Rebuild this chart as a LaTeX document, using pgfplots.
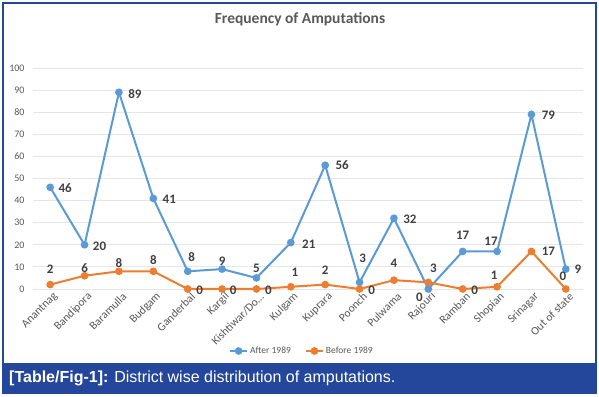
\documentclass[border=0pt]{standalone}
\usepackage{pgfplots}
\pgfplotsset{compat=1.18}
\usepackage{pgfplotstable}
\usepackage{fontspec}
\setmainfont{Carlito}
\newfontfamily\capfont{Liberation Sans}
\definecolor{blueS}{HTML}{5B9BD5}
\definecolor{orangeS}{HTML}{ED7D31}
\definecolor{txt}{HTML}{595959}
\definecolor{lbl}{HTML}{404040}
\definecolor{gridc}{HTML}{E6E6E6}
\definecolor{capbar}{HTML}{24479B}

\pgfplotstableread{
x y dx dy
0 46 15 -1
1 20 15 -1
2 89 16 -2
3 41 16 -1
4 8 4 14
5 9 0 8
6 5 0 10
7 21 18 -2
8 56 17 0
9 3 3 24
10 32 16 -1
11 0 -9 -8
12 17 0 16
13 17 -6 10
14 79 17 -1
15 9 12 0
}\after

\pgfplotstableread{
x y dx dy
0 2 0 15
1 6 0 8
2 8 0 8
3 8 0 11
4 0 12 -1
5 0 11 -1
6 0 12 -1
7 1 4 15
8 2 0 14
9 0 12 -1
10 4 0 17
11 3 5 14
12 0 12 -1
13 1 -3 12
14 17 17 0
15 0 -3 13
}\before

\begin{document}
\begin{tikzpicture}
\fill[white] (0pt,0pt) rectangle (599pt,396pt);
\fill[capbar] (3pt,3pt) rectangle (596pt,33pt);
\draw[capbar, line width=1.3pt] (3pt,3pt) rectangle (596pt,393pt);
\node[anchor=west, text=white, inner sep=0pt, font=\capfont\fontsize{16}{18}\selectfont] at (9pt,18pt) {\textbf{[Table/Fig-1]:} District wise distribution of amputations.};
\node[font=\bfseries\fontsize{15.5}{18}\selectfont, text=txt] at (300pt,377pt) {Frequency of Amputations};
\begin{axis}[
  at={(33pt,107pt)}, anchor=south west,
  scale only axis, width=550pt, height=221pt,
  xmin=-0.5, xmax=15.5, ymin=0, ymax=100,
  clip=false,
  axis line style={draw=none},
  tick style={draw=none},
  ymajorgrids, grid style={gridc, line width=0.8pt},
  ytick={0,10,...,100},
  xtick={0,...,15},
  xticklabels={Anantnag, Bandipora, Baramulla, Budgam, Ganderbal, Kargil, Kishtiwar/Do…, Kulgam, Kuprara, Poonch, Pulwama, Rajouri, Ramban, Shopian, Srinagar, Out of state},
  xticklabel style={rotate=45, anchor=east, xshift=1pt, yshift=-8pt, font=\fontsize{11.5}{13}\selectfont, text=txt, inner sep=1pt},
  yticklabel style={font=\fontsize{10}{11}\selectfont, text=txt, xshift=-5pt},
  /pgf/number format/assume math mode=true,
  legend columns=2,
  legend style={at={(0.489,-0.2805)}, anchor=center, draw=none, fill=none,
    font=\fontsize{9.5}{11}\selectfont, text=txt,
    /tikz/every even column/.append style={column sep=12pt}},
]
\addplot[blueS, line width=2pt, mark=*, mark size=2.8pt, mark options={fill=blueS, draw=blueS},
  nodes near coords, point meta=explicit,
  visualization depends on={\thisrow{dx}\as\mydx},
  visualization depends on={\thisrow{dy}\as\mydy},
  nodes near coords style={anchor=center, xshift=\mydx, yshift=\mydy,
    font=\bfseries\fontsize{13}{15}\selectfont, text=lbl, inner sep=0pt}]
  table[x=x, y=y, meta=y]{\after};
\addlegendentry{After 1989}
\addplot[orangeS, line width=2pt, mark=*, mark size=2.8pt, mark options={fill=orangeS, draw=orangeS},
  nodes near coords, point meta=explicit,
  visualization depends on={\thisrow{dx}\as\mydx},
  visualization depends on={\thisrow{dy}\as\mydy},
  nodes near coords style={anchor=center, xshift=\mydx, yshift=\mydy,
    font=\bfseries\fontsize{13}{15}\selectfont, text=lbl, inner sep=0pt}]
  table[x=x, y=y, meta=y]{\before};
\addlegendentry{Before 1989}
\end{axis}
\end{tikzpicture}
\end{document}
